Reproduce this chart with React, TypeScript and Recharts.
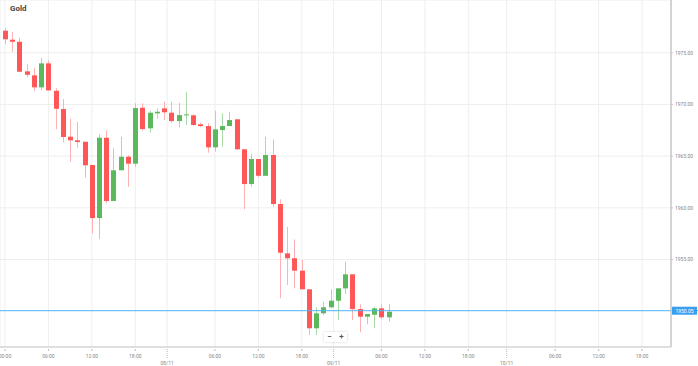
import React from "react";
import {
  ComposedChart,
  Bar,
  XAxis,
  YAxis,
  CartesianGrid,
  ReferenceLine,
} from "recharts";

// hourly candles
const opens = [
  1977.13, 1976.26, 1976.06, 1973.2, 1972.81, 1971.65, 1973.97, 1971.32, 1969.56, 1966.88,
  1966.53, 1966.39, 1964.14, 1959.01, 1966.78, 1960.66, 1963.63, 1964.94, 1964.27, 1969.68,
  1967.69, 1969.14, 1969.62, 1969.2, 1968.39, 1968.95, 1968.95, 1968.08, 1967.91, 1965.85,
  1967.52, 1967.91, 1968.56, 1965.66, 1962.3, 1964.72, 1963.1, 1965.11, 1960.37, 1955.6,
  1955.12, 1953.92, 1952.12, 1948.35, 1949.8, 1950.38, 1951.02, 1952.21, 1953.57, 1950.21,
  1949.47, 1949.66, 1950.28, 1949.41,
];
const highs = [
  1977.36, 1977.03, 1976.45, 1973.91, 1973.55, 1974.52, 1974.23, 1971.56, 1970.52, 1968.62,
  1968.3, 1966.39, 1964.14, 1967.11, 1967.5, 1965.78, 1966.88, 1965.11, 1970.11, 1970.11,
  1969.39, 1969.62, 1970.26, 1970.26, 1970.16, 1971.23, 1969.04, 1968.23, 1968.17, 1969.39,
  1969.14, 1969.29, 1968.56, 1965.66, 1965.2, 1964.72, 1966.88, 1966.62, 1960.82, 1958.17,
  1956.95, 1954.95, 1952.12, 1950.38, 1950.92, 1952.12, 1952.21, 1954.79, 1953.57, 1950.67,
  1949.73, 1950.44, 1950.67, 1950.7,
];
const lows = [
  1975.84, 1975.1, 1973.1, 1972.62, 1971.3, 1971.36, 1971.3, 1967.59, 1966.33, 1964.46,
  1965.81, 1962.91, 1957.5, 1956.98, 1960.44, 1960.66, 1963.63, 1962.04, 1963.97, 1967.46,
  1967.26, 1968.62, 1968.49, 1968.23, 1967.79, 1968.01, 1967.91, 1967.79, 1965.33, 1965.43,
  1965.91, 1967.91, 1965.66, 1959.86, 1962.04, 1962.95, 1963.08, 1960.11, 1951.25, 1952.53,
  1952.21, 1952.12, 1947.7, 1947.7, 1949.63, 1950.28, 1949.15, 1951.66, 1949.15, 1947.96,
  1948.73, 1948.35, 1949.25, 1948.98,
];
const closes = [
  1976.3, 1976.06, 1973.16, 1972.87, 1971.65, 1973.97, 1971.36, 1969.58, 1966.85, 1966.53,
  1966.36, 1964.11, 1959.01, 1966.78, 1960.66, 1963.63, 1964.94, 1964.27, 1969.65, 1967.62,
  1969.2, 1969.29, 1969.24, 1968.39, 1968.97, 1969.04, 1968.01, 1967.91, 1965.85, 1967.59,
  1967.91, 1968.49, 1965.66, 1962.3, 1964.72, 1963.1, 1965.11, 1960.37, 1955.66, 1955.12,
  1953.92, 1952.12, 1948.35, 1949.8, 1950.38, 1951.02, 1952.21, 1953.57, 1950.21, 1949.47,
  1949.73, 1950.28, 1949.41, 1949.95,
];

const xTicks = [0, 6, 12, 18, 22.4, 29, 35, 41, 45.4, 52, 58, 64, 69.3, 76, 82, 88];
const xTickLabels = [
  "00:00", "06:00", "12:00", "18:00", "08/11", "06:00", "12:00", "18:00",
  "09/11", "06:00", "12:00", "18:00", "10/11", "06:00", "12:00", "18:00",
];
const dayLabels = ["08/11", "09/11", "10/11"];
const yTicks = [1955, 1960, 1965, 1970, 1975];
const lastPrice = 1950.05;

const UP = "#5cb85c";
const DOWN = "#ff5757";
const UP_WICK = "#a9dba9";
const DOWN_WICK = "#ffb1b1";

const data = opens.map((o, i) => ({
  i,
  open: o,
  high: highs[i],
  low: lows[i],
  close: closes[i],
  range: [lows[i], highs[i]],
}));

function Candle(props: any) {
  const { x, y, width, height, payload } = props;
  if (!payload) return null;
  const top = Math.min(y, y + height);
  const h = Math.abs(height);
  const { open, close, high, low } = payload;
  const up = close >= open;
  const px = (v: number) => top + ((high - v) / (high - low || 1)) * h;
  const cx = Math.round(x + width / 2) + 0.5;
  const bTop = px(Math.max(open, close));
  const bBot = px(Math.min(open, close));
  return (
    <g>
      <line x1={cx} x2={cx} y1={top} y2={top + h} stroke={up ? UP_WICK : DOWN_WICK} strokeWidth={1} />
      <rect
        x={cx - 2.5}
        y={bTop}
        width={5}
        height={Math.max(bBot - bTop, 1)}
        fill={up ? UP : DOWN}
      />
    </g>
  );
}

function XTick(props: any) {
  const { x, y, payload } = props;
  const label = xTickLabels[xTicks.indexOf(payload.value)];
  if (dayLabels.includes(label)) {
    return (
      <g>
        <line x1={x} x2={x} y1={y} y2={y + 9} stroke="#bbb" strokeDasharray="1 1" />
        <text x={x} y={y + 16} textAnchor="middle" fontSize={5} fill="#888">
          {label}
        </text>
      </g>
    );
  }
  return (
    <g>
      <line x1={x} x2={x} y1={y} y2={y + 2} stroke="#bbb" />
      <text x={x} y={y + 8.5} textAnchor="middle" fontSize={5} fill="#888">
        {label}
      </text>
    </g>
  );
}

function PriceLabel(props: any) {
  const vb = props.viewBox || {};
  const right = vb.x + vb.width;
  return (
    <g>
      <line x1={right} x2={698} y1={vb.y} y2={vb.y} stroke="#4fb3f6" />
      <rect x={right + 1} y={vb.y - 4} width={25} height={8} fill="#3a9ff0" />
      <text x={right + 13.5} y={vb.y + 1.8} textAnchor="middle" fontSize={5} fill="#fff">
        {lastPrice.toFixed(2)}
      </text>
    </g>
  );
}

export default function App() {
  return (
    <div
      style={{
        position: "absolute",
        left: 0,
        top: 0,
        width: 698,
        height: 366,
        background: "#fff",
        fontFamily: "Roboto, sans-serif",
      }}
    >
      <ComposedChart
        width={698}
        height={366}
        data={data}
        margin={{ top: 0, right: 0, bottom: 0, left: 0 }}
      >
        <CartesianGrid stroke="#eeeeee" />
        <XAxis
          type="number"
          dataKey="i"
          domain={[-0.69, 92]}
          allowDataOverflow
          ticks={xTicks}
          interval={0}
          height={19}
          tickSize={0}
          tickLine={false}
          axisLine={{ stroke: "#c8c8c8" }}
          tick={<XTick />}
        />
        <YAxis
          orientation="right"
          width={27}
          domain={[1946.54, 1980.1]}
          allowDataOverflow
          ticks={yTicks}
          interval={0}
          tickSize={2}
          tickLine={{ stroke: "#c8c8c8" }}
          axisLine={{ stroke: "#c8c8c8", strokeWidth: 1.5 }}
          tick={{ fontSize: 5, fill: "#888" }}
          tickFormatter={(v: number) => v.toFixed(2)}
        />
        <ReferenceLine y={lastPrice} stroke="#4fb3f6" label={<PriceLabel />} />
        <Bar
          dataKey="range"
          barSize={5}
          shape={<Candle />}
          isAnimationActive={false}
        />
      </ComposedChart>
      <div
        style={{
          position: "absolute",
          left: 10,
          top: 4,
          fontSize: 8,
          fontWeight: 700,
          color: "#444",
        }}
      >
        Gold
      </div>
      <div
        style={{
          position: "absolute",
          left: 324,
          top: 332,
          display: "flex",
          gap: 1,
          background: "#fff",
          boxShadow: "0 0 2px rgba(0,0,0,0.2)",
        }}
      >
        {["\u2212", "+"].map((s) => (
          <div
            key={s}
            style={{
              width: 11,
              height: 10,
              fontSize: 8,
              lineHeight: "10px",
              textAlign: "center",
              color: "#555",
              fontWeight: 700,
            }}
          >
            {s}
          </div>
        ))}
      </div>
    </div>
  );
}
